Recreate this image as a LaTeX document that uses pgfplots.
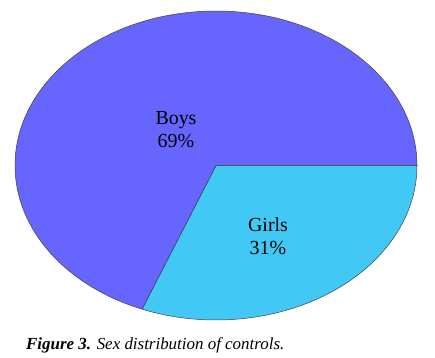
\documentclass[border=0pt]{standalone}
\usepackage{pgfplots}
\pgfplotsset{compat=1.18}
\usepackage{fontspec}
\setmainfont{Liberation Serif}
\definecolor{boys}{RGB}{102,102,255}
\definecolor{girls}{RGB}{66,200,245}
\begin{document}
\begin{tikzpicture}
% values: Boys 69, Girls 31
\pgfmathsetmacro{\girls}{31}
\pgfmathsetmacro{\boys}{69}
\pgfmathsetmacro{\ga}{-\girls*3.6}
\begin{axis}[
  scale only axis, width=435bp, height=358bp,
  xmin=0, xmax=435, ymin=0, ymax=358,
  hide axis, clip=false,
]
\path (axis cs:0,0) rectangle (axis cs:435,358);
% Girls slice
\fill[girls, draw=black!75, line width=0.5pt] (axis cs:216,192.5) -- (axis cs:417,192.5)
   arc[start angle=0, end angle=\ga, x radius=201, y radius=154.5] -- cycle;
% Boys slice
\fill[boys, draw=black!75, line width=0.5pt] (axis cs:216,192.5) -- (axis cs:417,192.5)
   arc[start angle=0, end angle=\ga+360, x radius=201, y radius=154.5] -- cycle;
\node[font=\fontsize{20}{23}\selectfont, align=center] at (axis cs:176,228) {Boys\\69\%};
\node[font=\fontsize{20}{23}\selectfont, align=center] at (axis cs:268,121.5) {Girls\\31\%};
\node[anchor=base west, font=\fontsize{17}{20}\selectfont\itshape, inner sep=0pt] at (axis cs:26,9) {\textbf{Figure 3.} Sex distribution of controls.};
\end{axis}
\end{tikzpicture}
\end{document}
